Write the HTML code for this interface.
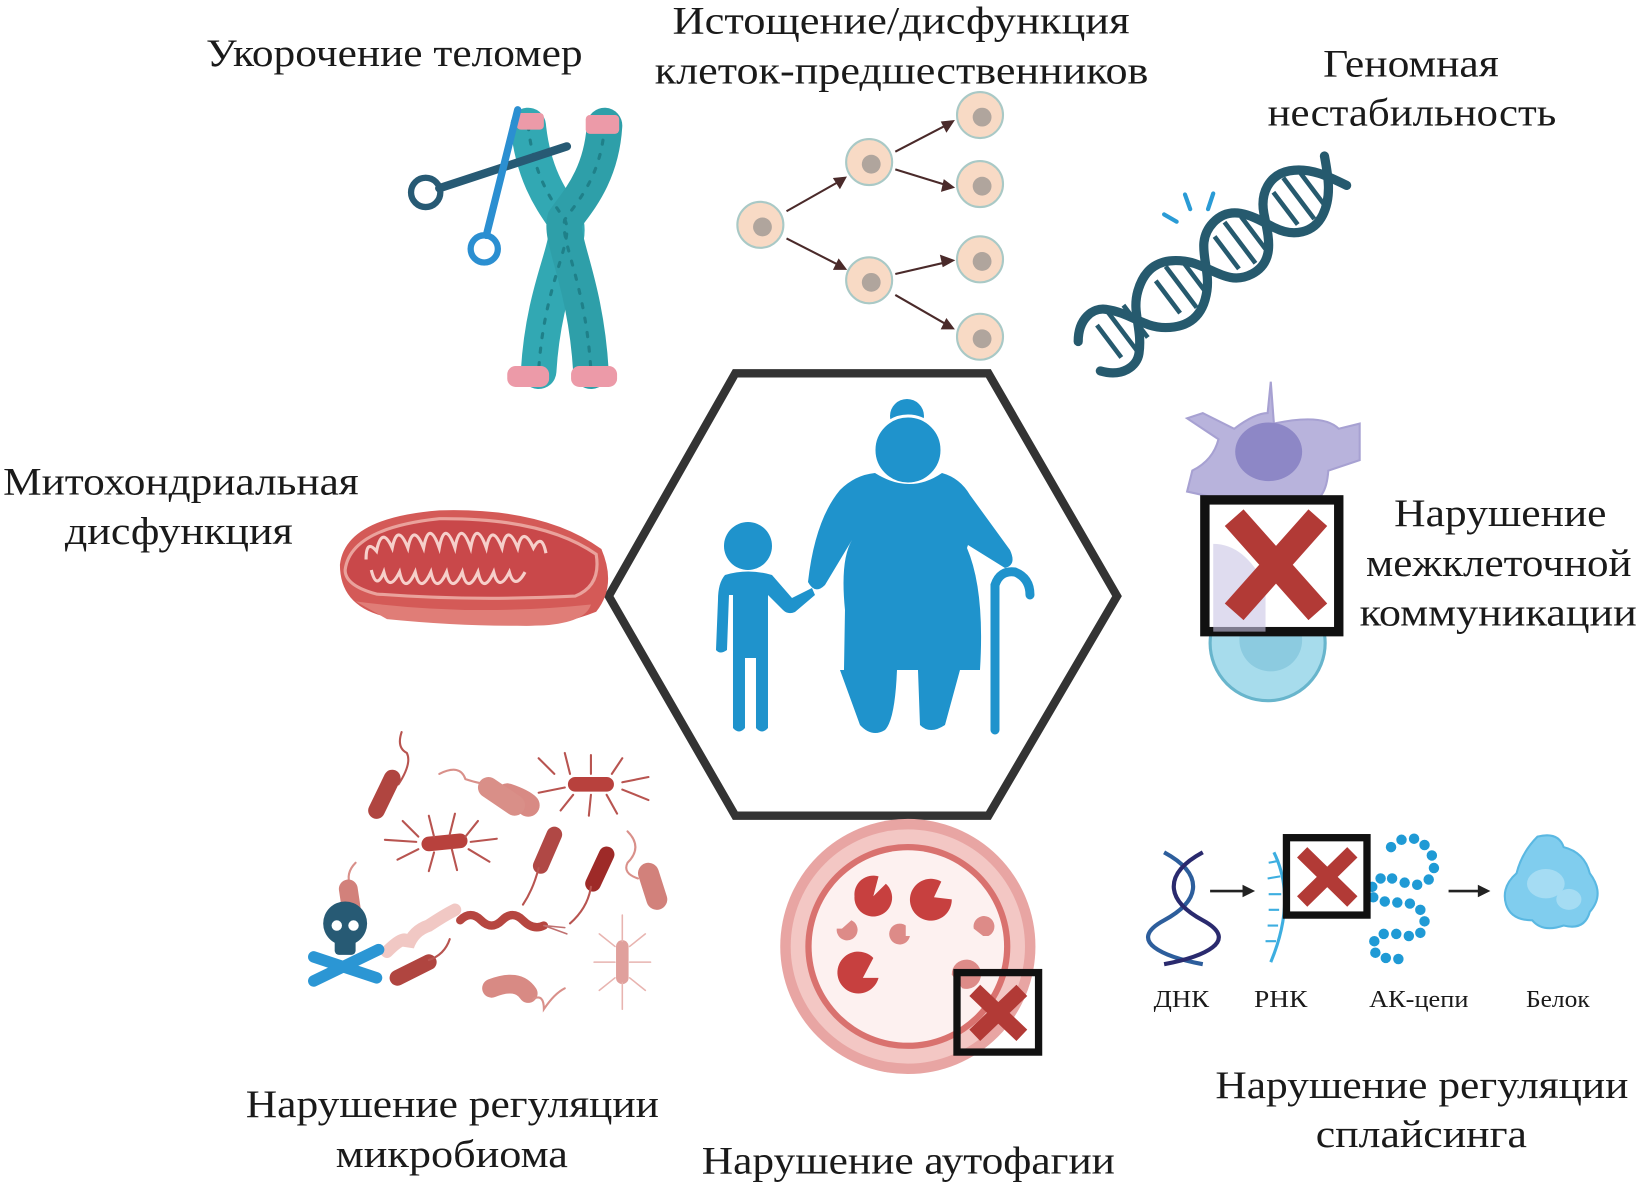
<!DOCTYPE html>
<html><head><meta charset="utf-8"><style>
html,body{margin:0;padding:0;background:#fff;}
svg{display:block;}
text{font-family:"Liberation Serif","DejaVu Serif",serif;fill:#1a1a1a;}
</style></head><body>
<svg width="1640" height="1187" viewBox="0 0 1640 1187" xmlns="http://www.w3.org/2000/svg">
<g transform="scale(1.0459,1.0458)">

<!-- Hexagon -->
<polygon points="703,357 945,357 1068,570 945,780 703,780 582,570" fill="#fff" stroke="#333" stroke-width="8"/>

<!-- Labels -->
<g font-size="37">
<text x="197" y="63" textLength="360" lengthAdjust="spacingAndGlyphs">Укорочение теломер</text>
<text x="643" y="32" textLength="437" lengthAdjust="spacingAndGlyphs">Истощение/дисфункция</text>
<text x="626" y="80" textLength="472" lengthAdjust="spacingAndGlyphs">клеток-предшественников</text>
<text x="1265" y="73" textLength="168" lengthAdjust="spacingAndGlyphs">Геномная</text>
<text x="1212" y="120" textLength="276" lengthAdjust="spacingAndGlyphs">нестабильность</text>
<text x="3" y="473" textLength="340" lengthAdjust="spacingAndGlyphs">Митохондриальная</text>
<text x="62" y="520" textLength="218" lengthAdjust="spacingAndGlyphs">дисфункция</text>
<text x="1333" y="503" textLength="203" lengthAdjust="spacingAndGlyphs">Нарушение</text>
<text x="1306" y="551" textLength="254" lengthAdjust="spacingAndGlyphs">межклеточной</text>
<text x="1300" y="598" textLength="265" lengthAdjust="spacingAndGlyphs">коммуникации</text>
<text x="235" y="1068" textLength="395" lengthAdjust="spacingAndGlyphs">Нарушение регуляции</text>
<text x="321" y="1116" textLength="222" lengthAdjust="spacingAndGlyphs">микробиома</text>
<text x="671" y="1122" textLength="395" lengthAdjust="spacingAndGlyphs">Нарушение аутофагии</text>
<text x="1162" y="1050" textLength="395" lengthAdjust="spacingAndGlyphs">Нарушение регуляции</text>
<text x="1258" y="1097" textLength="202" lengthAdjust="spacingAndGlyphs">сплайсинга</text>
</g>
<g font-size="23">
<text x="1103" y="963" textLength="53" lengthAdjust="spacingAndGlyphs">ДНК</text>
<text x="1199" y="963" textLength="51" lengthAdjust="spacingAndGlyphs">РНК</text>
<text x="1309" y="963" textLength="95" lengthAdjust="spacingAndGlyphs">АК-цепи</text>
<text x="1459" y="963" textLength="61" lengthAdjust="spacingAndGlyphs">Белок</text>
</g>

<!-- Chromosome -->
<g stroke-linecap="round" fill="none">
<path d="M505,120 C510,170 530,195 540,210 C550,230 520,270 515,355" stroke="#32a8b3" stroke-width="34"/>
<path d="M578,120 C575,170 550,195 540,210 C535,230 560,270 565,355" stroke="#2e9fa9" stroke-width="34"/>
<path d="M505,120 C510,170 530,195 540,210 C550,230 520,270 515,355" stroke="#1f8089" stroke-width="3" stroke-dasharray="4 10"/>
<path d="M578,120 C575,170 550,195 540,210 C535,230 560,270 565,355" stroke="#1f8089" stroke-width="3" stroke-dasharray="4 10"/>
</g>
<rect x="494" y="108" width="26" height="16" rx="4" fill="#ec9aa8"/>
<rect x="560" y="110" width="32" height="18" rx="4" fill="#ec9aa8"/>
<rect x="485" y="350" width="40" height="20" rx="8" fill="#ec9aa8"/>
<rect x="546" y="350" width="44" height="20" rx="8" fill="#ec9aa8"/>
<!-- Scissors -->
<line x1="420" y1="180" x2="542" y2="140" stroke="#275a74" stroke-width="8" stroke-linecap="round"/>
<circle cx="407" cy="184" r="14" fill="none" stroke="#275a74" stroke-width="6"/>
<line x1="495" y1="105" x2="465" y2="225" stroke="#2b8fd1" stroke-width="7" stroke-linecap="round"/>
<circle cx="463" cy="238" r="13" fill="none" stroke="#2b8fd1" stroke-width="6"/>

<!-- Progenitor cells -->
<g stroke="#4a2a2a" stroke-width="2" fill="#4a2a2a">
<line x1="752" y1="202" x2="805" y2="172"/><polygon points="808,170 798,171 803,179"/>
<line x1="752" y1="228" x2="805" y2="255"/><polygon points="808,257 798,257 802,249"/>
<line x1="856" y1="145" x2="908" y2="118"/><polygon points="911,116 901,117 905,125"/>
<line x1="856" y1="162" x2="908" y2="178"/><polygon points="911,179 901,182 903,173"/>
<line x1="856" y1="262" x2="908" y2="250"/><polygon points="911,249 902,254 900,245"/>
<line x1="856" y1="282" x2="908" y2="312"/><polygon points="911,314 901,314 905,306"/>
</g>
<g stroke="#a9c9c6" stroke-width="2" fill="#f8dac5">
<circle cx="727" cy="215" r="22"/><circle cx="831" cy="155" r="22"/><circle cx="831" cy="268" r="22"/>
<circle cx="937" cy="110" r="22"/><circle cx="937" cy="176" r="22"/><circle cx="937" cy="248" r="22"/><circle cx="937" cy="322" r="22"/>
</g>
<g fill="#b0a59d">
<circle cx="729" cy="217" r="9"/><circle cx="833" cy="157" r="9"/><circle cx="833" cy="270" r="9"/>
<circle cx="939" cy="112" r="9"/><circle cx="939" cy="178" r="9"/><circle cx="939" cy="250" r="9"/><circle cx="939" cy="324" r="9"/>
</g>

<!-- DNA helix -->
<g transform="translate(1045,338) rotate(-37) scale(0.88)">
<g stroke="#265a6e" stroke-width="5">
<line x1="22" y1="-22" x2="22" y2="22"/><line x1="40" y1="-28" x2="40" y2="28"/><line x1="58" y1="-22" x2="58" y2="22"/>
<line x1="102" y1="-22" x2="102" y2="22"/><line x1="120" y1="-28" x2="120" y2="28"/><line x1="138" y1="-22" x2="138" y2="22"/>
<line x1="182" y1="-22" x2="182" y2="22"/><line x1="200" y1="-28" x2="200" y2="28"/><line x1="218" y1="-22" x2="218" y2="22"/>
<line x1="262" y1="-22" x2="262" y2="22"/><line x1="280" y1="-28" x2="280" y2="28"/><line x1="298" y1="-22" x2="298" y2="22"/>
</g>
<path d="M-5,-20 C10,-40 30,-40 40,-30 C60,-10 60,10 80,25 S120,40 140,20 S160,-30 190,-35 S230,-10 240,10 S270,40 290,30 S320,0 330,-20" fill="none" stroke="#265a6e" stroke-width="10" stroke-linecap="round"/>
<path d="M-5,20 C10,40 30,40 40,30 C60,10 60,-10 80,-25 S120,-40 140,-20 S160,30 190,35 S230,10 240,-10 S270,-40 290,-30 S320,0 330,20" fill="none" stroke="#265a6e" stroke-width="10" stroke-linecap="round"/>
</g>
<g stroke="#2a9bd5" stroke-width="4" stroke-linecap="round">
<line x1="1113" y1="205" x2="1125" y2="212"/><line x1="1133" y1="186" x2="1138" y2="200"/><line x1="1160" y1="185" x2="1155" y2="200"/>
</g>

<!-- Mitochondrion -->
<path d="M325,540 Q330,495 420,488 Q520,485 575,525 Q590,560 570,585 Q520,605 470,595 Q410,590 370,590 Q325,580 325,540Z" fill="#d45a57"/>
<path d="M330,545 Q335,505 420,496 Q520,495 570,530 Q575,560 550,570 Q450,575 360,568 Q330,560 330,545Z" fill="#c9484a" stroke="#eaa29c" stroke-width="3"/>
<path d="M350,535 q0,-20 10,-8 q5,-25 15,-3 q5,-25 15,0 q5,-25 15,0 q5,-28 15,0 q5,-28 15,0 q5,-28 15,0 q5,-28 15,0 q5,-25 15,0 q5,-25 15,0 q5,-22 15,0 q8,-15 12,5 M355,545 q5,20 12,2 q5,20 15,0 q5,22 15,0 q5,22 15,0 q5,22 15,0 q5,22 15,0 q5,22 15,0 q5,22 15,0 q5,20 15,0 q5,18 15,0" fill="none" stroke="#f6cfca" stroke-width="3"/>
<path d="M340,575 Q450,590 565,578 Q560,595 520,598 Q450,600 370,592Z" fill="#e07d77"/>

<!-- Cell communication -->
<path d="M1215,365 L1218,405 Q1265,395 1280,410 L1300,405 L1300,440 L1270,450 Q1268,480 1250,480 L1180,480 L1135,470 L1140,450 Q1160,440 1165,420 L1135,400 L1150,395 L1180,410 Q1200,395 1212,395 Z" fill="#b8b3dc" stroke="#a7a1d2" stroke-width="2"/>
<ellipse cx="1213" cy="432" rx="32" ry="28" fill="#8d87c6"/>
<circle cx="1212" cy="615" r="55" fill="#a7dcec" stroke="#68b5cc" stroke-width="3"/>
<circle cx="1215" cy="612" r="30" fill="#8ccbe0"/>
<rect x="1152" y="478" width="128" height="126" fill="#fff" stroke="#111" stroke-width="9"/>
<path d="M1160,520 Q1190,520 1210,560 L1210,604 L1160,604 Z" fill="#c9c4e4" opacity=".6"/>
<path d="M1180,495 L1260,585 M1260,495 L1180,585" stroke="#b23a36" stroke-width="24"/>

<!-- Microbiome -->
<g stroke-linecap="round" fill="none">
<path d="M384,700 q-5,15 5,20 q5,10 -8,30" stroke="#b85450" stroke-width="2"/>
<line x1="375" y1="744" x2="360" y2="775" stroke="#b04540" stroke-width="16"/>
<path d="M420,740 q20,-10 25,5 q15,5 25,5" stroke="#d9908a" stroke-width="2"/>
<path d="M485,760 q15,5 20,10" stroke="#d88a84" stroke-width="22"/>
<line x1="467" y1="753" x2="492" y2="770" stroke="#d98f88" stroke-width="20"/>
<line x1="550" y1="750" x2="580" y2="750" stroke="#b8413d" stroke-width="14"/>
<path d="M530,740 l-15,-15 M545,740 l-5,-20 M565,740 l0,-18 M585,740 l10,-15 M595,748 l25,-5 M595,755 l25,10 M580,760 l10,18 M565,760 l-2,20 M548,760 l-12,15 M540,753 l-25,5" stroke="#b85450" stroke-width="2"/>
<line x1="410" y1="807" x2="440" y2="804" stroke="#b8413d" stroke-width="14"/>
<path d="M400,800 l-15,-15 M415,800 l-5,-20 M430,798 l5,-20 M445,800 l12,-15 M450,805 l25,-3 M448,812 l20,12 M432,812 l5,20 M415,815 l-5,18 M400,812 l-20,10 M398,805 l-30,-2" stroke="#b85450" stroke-width="2"/>
<line x1="530" y1="798" x2="517" y2="828" stroke="#b04845" stroke-width="15"/>
<path d="M515,830 q-5,20 -15,35" stroke="#b85450" stroke-width="2"/>
<line x1="580" y1="817" x2="567" y2="845" stroke="#9e2a28" stroke-width="15"/>
<path d="M565,848 q-3,20 -20,35" stroke="#b85450" stroke-width="2"/>
<path d="M600,795 q15,15 0,30 q-5,10 10,15" stroke="#d9908a" stroke-width="2"/>
<line x1="620" y1="835" x2="628" y2="860" stroke="#d2817b" stroke-width="20"/>
<path d="M340,825 q-10,10 -5,22" stroke="#d9908a" stroke-width="2"/>
<line x1="333" y1="850" x2="336" y2="870" stroke="#d2817b" stroke-width="18"/>
<path d="M370,910 q20,-20 20,-5 q5,-15 20,-20 q15,-10 25,-15" stroke="#f1c8c4" stroke-width="12"/>
<path d="M440,880 q10,-10 20,0 q10,10 20,0 q10,-10 20,0 q10,10 20,5" stroke="#b64640" stroke-width="8"/>
<path d="M520,885 l20,2 M520,885 l22,8" stroke="#c07070" stroke-width="1.5"/>
<line x1="380" y1="935" x2="410" y2="920" stroke="#b04540" stroke-width="15"/>
<path d="M410,918 q15,-5 20,-20" stroke="#b85450" stroke-width="2"/>
<path d="M470,945 q25,-10 35,5" stroke="#d88a84" stroke-width="18"/>
<path d="M510,955 q10,-5 10,10 q10,-15 20,-20" stroke="#d9908a" stroke-width="2"/>
<line x1="595" y1="905" x2="595" y2="935" stroke="#e0a09c" stroke-width="12"/>
<path d="M588,905 l-15,-12 M602,905 l15,-12 M588,920 l-20,0 M602,920 l20,0 M588,935 l-15,12 M602,935 l15,12 M595,900 l0,-25 M595,940 l0,25" stroke="#e8b4b0" stroke-width="1.5"/>
</g>
<!-- skull & bones -->
<line x1="300" y1="915" x2="360" y2="935" stroke="#2b96d4" stroke-width="11" stroke-linecap="round"/>
<line x1="300" y1="938" x2="362" y2="908" stroke="#2b96d4" stroke-width="11" stroke-linecap="round"/>
<circle cx="330" cy="883" r="21" fill="#275a74"/>
<rect x="320" y="895" width="20" height="18" rx="4" fill="#275a74"/>
<circle cx="322" cy="885" r="5" fill="#fff"/><circle cx="338" cy="885" r="5" fill="#fff"/>

<!-- Autophagy -->
<circle cx="868" cy="905" r="122" fill="#e8a5a3"/>
<circle cx="868" cy="905" r="112" fill="#f3c7c4"/>
<circle cx="868" cy="905" r="98" fill="#d9726f"/>
<circle cx="868" cy="905" r="92" fill="#fdf1f0"/>
<g fill="#c7403f">
<path d="M835,857 m-18,0 a18,18 0 1 0 30,-12 L835,857 L840,838 a18,18 0 0 0 -23,19z"/>
<path d="M910,860 a20,20 0 1 1 -10,-17 L893,858 Z"/>
<path d="M840,935 a20,20 0 1 1 -5,-19 L825,935 Z"/>
</g>
<g fill="#dd8b88">
<path d="M800,888 a10,10 0 1 0 14,-8 L805,888Z"/>
<path d="M870,895 a10,10 0 1 1 -4,-10 L866,895Z"/>
<path d="M945,895 a10,10 0 1 0 -14,-7 L940,895Z"/>
<path d="M920,945 a14,14 0 1 0 -10,-13 L920,945Z"/>
</g>
<rect x="915" y="930" width="78" height="76" fill="none" stroke="#111" stroke-width="7"/>
<path d="M932,947 L977,990 M977,947 L932,990" stroke="#b23a36" stroke-width="15"/>

<!-- Splicing -->
<g fill="none" stroke-width="4">
<path d="M1113,815 C1150,835 1150,860 1113,880 S1113,915 1150,922" stroke="#2d5e9c"/>
<path d="M1150,815 C1113,835 1113,860 1150,880 S1150,915 1113,922" stroke="#2a2a6e"/>
</g>
<line x1="1157" y1="852" x2="1190" y2="852" stroke="#222" stroke-width="2.5"/><polygon points="1200,852 1188,846 1188,858" fill="#222"/>
<path d="M1218,815 Q1240,860 1215,920" fill="none" stroke="#3daee0" stroke-width="3"/>
<path d="M1213,825 l10,-2 M1212,840 l12,-2 M1213,855 l12,0 M1213,870 l10,0 M1212,885 l10,0 M1210,900 l10,0" stroke="#3daee0" stroke-width="2"/>
<g fill="#1f9ad5">
<circle cx="1330" cy="810" r="5"/><circle cx="1340" cy="803" r="5"/><circle cx="1352" cy="802" r="5"/><circle cx="1362" cy="808" r="5"/><circle cx="1369" cy="818" r="5"/><circle cx="1371" cy="830" r="5"/><circle cx="1366" cy="841" r="5"/><circle cx="1355" cy="846" r="5"/><circle cx="1343" cy="844" r="5"/><circle cx="1331" cy="840" r="5"/><circle cx="1320" cy="840" r="5"/><circle cx="1312" cy="848" r="5"/><circle cx="1313" cy="858" r="5"/><circle cx="1324" cy="862" r="5"/><circle cx="1336" cy="863" r="5"/><circle cx="1348" cy="864" r="5"/><circle cx="1358" cy="870" r="5"/><circle cx="1362" cy="881" r="5"/><circle cx="1358" cy="892" r="5"/><circle cx="1347" cy="895" r="5"/><circle cx="1335" cy="893" r="5"/><circle cx="1323" cy="893" r="5"/><circle cx="1314" cy="900" r="5"/><circle cx="1315" cy="911" r="5"/><circle cx="1325" cy="916" r="5"/><circle cx="1337" cy="917" r="5"/>
</g>
<rect x="1230" y="801" width="77" height="74" fill="#fff" stroke="#111" stroke-width="7"/>
<path d="M1245,815 L1293,862 M1293,815 L1245,862" stroke="#b23a36" stroke-width="14"/>
<line x1="1385" y1="852" x2="1415" y2="852" stroke="#222" stroke-width="2.5"/><polygon points="1425,852 1413,846 1413,858" fill="#222"/>
<path d="M1470,800 Q1490,795 1495,810 Q1515,815 1520,835 Q1535,855 1520,872 Q1515,890 1495,885 Q1475,892 1465,880 Q1445,880 1440,865 Q1435,848 1450,835 Q1455,815 1470,800Z" fill="#80cdee" stroke="#5ab8e2" stroke-width="2"/>
<ellipse cx="1478" cy="845" rx="18" ry="14" fill="#a5dcf3"/><ellipse cx="1500" cy="860" rx="12" ry="10" fill="#a5dcf3"/>

<!-- People -->
<g transform="scale(0.9561,0.9562)" fill="#1f93cc">
<circle cx="907" cy="416" r="17"/>
<circle cx="908" cy="450" r="34" stroke="#fff" stroke-width="3"/>
<path d="M875,473 Q910,495 942,473 Q960,478 970,495 L1010,550 Q1017,565 1005,568 L968,545 L967,548 Q985,590 980,670 L960,670 L945,725 Q930,735 920,725 L918,670 L897,670 Q895,720 885,730 Q872,738 860,725 L840,670 L844,670 L845,610 Q840,560 852,540 L825,585 Q815,595 808,582 Q815,520 840,490 Q855,475 875,473Z"/>
<path d="M995,730 L995,585 Q1000,570 1015,572 Q1030,578 1030,595" fill="none" stroke="#1f93cc" stroke-width="9" stroke-linecap="round"/>
<circle cx="748" cy="546" r="24"/>
<path d="M725,575 Q748,568 772,575 L792,598 L812,588 L815,595 L795,612 Q788,615 783,610 L768,595 L768,728 Q762,735 756,728 L756,658 L745,658 L745,728 Q739,735 733,728 L733,595 L729,595 L727,650 Q720,655 716,650 L718,600 Q718,583 725,575Z"/>
</g>
</g>
</svg>
</body></html>
